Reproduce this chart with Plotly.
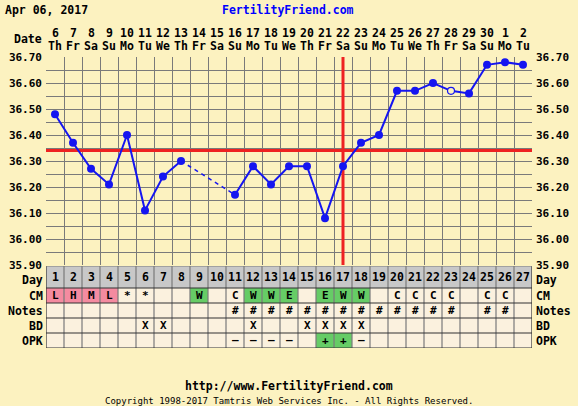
import plotly.graph_objects as go

# ---- chart data ----
chart_date = "Apr 06, 2017"
cycle_days = list(range(1, 28))
date_nums = ["6", "7", "8", "9", "10", "11", "12", "13", "14", "15", "16", "17", "18", "19",
             "20", "21", "22", "23", "24", "25", "26", "27", "28", "29", "30", "1", "2"]
weekdays = ["Th", "Fr", "Sa", "Su", "Mo", "Tu", "We", "Th", "Fr", "Sa", "Su", "Mo", "Tu", "We",
            "Th", "Fr", "Sa", "Su", "Mo", "Tu", "We", "Th", "Fr", "Sa", "Su", "Mo", "Tu"]
temps = [36.48, 36.37, 36.27, 36.21, 36.40, 36.11, 36.24, 36.30, None, None,
         36.17, 36.28, 36.21, 36.28, 36.28, 36.08, 36.28, 36.37, 36.40, 36.57,
         36.57, 36.60, 36.57, 36.56, 36.67, 36.68, 36.67]
open_days = [23]            # temperatures shown as hollow points
coverline = 36.34
ovulation_day = 17
temp_ticks = [35.90, 36.00, 36.10, 36.20, 36.30, 36.40, 36.50, 36.60, 36.70]

cm = ["L", "H", "M", "L", "*", "*", "", "", "W", "", "C", "W", "W", "E", "", "E", "W", "W",
      "", "C", "C", "C", "C", "", "C", "C", ""]
notes = ["", "", "", "", "", "", "", "", "", "", "#", "#", "#", "#", "#", "#", "#", "#",
         "#", "#", "#", "#", "#", "", "#", "#", ""]
bd = ["", "", "", "", "", "X", "X", "", "", "", "", "X", "", "", "X", "X", "X", "X",
      "", "", "", "", "", "", "", "", ""]
opk = ["", "", "", "", "", "", "", "", "", "", "\u2013", "\u2013", "\u2013", "\u2013", "",
       "+", "+", "\u2013", "", "", "", "", "", "", "", "", ""]
row_names = ["Day", "CM", "Notes", "BD", "OPK"]

# ---- styling ----
W, H = 578, 406
BG = "#FCF2C0"
CELL = "#FBF1DE"
DAYROW = "#C8C8C8"
PINK = "#F48BA0"
GREEN = "#66CC66"
GRID = "#7A7A7A"
RED = "#EE2222"
BLUE = "#1515F0"
FONT = "DejaVu Sans Mono"
cm_colors = {"L": PINK, "H": PINK, "M": PINK, "W": GREEN, "E": GREEN}
opk_colors = {"+": GREEN}

X0, X1 = 46, 532          # plot left/right in pixels
PT, PB = 57, 265          # temperature area top/bottom
TT, TB = 266, 348         # table top/bottom
row_edges = [0, 22, 37, 52, 67, 82]   # table row boundaries (pixels from table top)


def py(p):
    return 1 - p / H


def px(p):
    return p / W


fig = go.Figure()

# coverline and ovulation marker, under the temperature curve
fig.add_trace(go.Scatter(x=[0.5, 27.5], y=[coverline, coverline], mode="lines",
                         line=dict(color=RED, width=3), hoverinfo="skip"))
fig.add_trace(go.Scatter(x=[ovulation_day, ovulation_day], y=[temp_ticks[0], temp_ticks[-1]],
                         mode="lines", line=dict(color=RED, width=3), hoverinfo="skip"))

# temperature line: solid where consecutive, dashed across missing days
fig.add_trace(go.Scatter(x=cycle_days, y=temps, mode="lines",
                         line=dict(color=BLUE, width=2), connectgaps=False,
                         hoverinfo="skip"))
known = [(d, t) for d, t in zip(cycle_days, temps) if t is not None]
gap_x, gap_y = [], []
for (d0, t0), (d1, t1) in zip(known[:-1], known[1:]):
    if d1 - d0 > 1:
        gap_x += [d0, d1, None]
        gap_y += [t0, t1, None]
fig.add_trace(go.Scatter(x=gap_x, y=gap_y, mode="lines",
                         line=dict(color=BLUE, width=1.5, dash="4px,4px"),
                         hoverinfo="skip"))
fx = [d for d, t in known if d not in open_days]
fy = [t for d, t in known if d not in open_days]
fig.add_trace(go.Scatter(x=fx, y=fy, mode="markers",
                         marker=dict(color=BLUE, size=8, line=dict(width=0))))
ox = [d for d, t in known if d in open_days]
oy = [t for d, t in known if d in open_days]
fig.add_trace(go.Scatter(x=ox, y=oy, mode="markers",
                         marker=dict(color=BG, size=7, line=dict(color=BLUE, width=1.2))))

shapes = []
# table backgrounds
shapes.append(dict(type="rect", xref="x", yref="y2", x0=0.5, x1=27.5, y0=row_edges[0],
                   y1=row_edges[1], fillcolor=DAYROW, line=dict(width=0), layer="above"))
shapes.append(dict(type="rect", xref="x", yref="y2", x0=0.5, x1=27.5, y0=row_edges[1],
                   y1=row_edges[-1], fillcolor=CELL, line=dict(width=0), layer="above"))
for d, c in zip(cycle_days, cm):
    if c in cm_colors:
        shapes.append(dict(type="rect", xref="x", yref="y2", x0=d - 0.5, x1=d + 0.5,
                           y0=row_edges[1], y1=row_edges[2], fillcolor=cm_colors[c],
                           line=dict(width=0), layer="above"))
for d, c in zip(cycle_days, opk):
    if c in opk_colors:
        shapes.append(dict(type="rect", xref="x", yref="y2", x0=d - 0.5, x1=d + 0.5,
                           y0=row_edges[4], y1=row_edges[5], fillcolor=opk_colors[c],
                           line=dict(width=0), layer="above"))
# table grid
for k in range(28):
    shapes.append(dict(type="line", xref="x", yref="y2", x0=k + 0.5, x1=k + 0.5,
                       y0=row_edges[0], y1=row_edges[-1],
                       line=dict(color=GRID if 0 < k < 27 else "#333333", width=1.2),
                       layer="above"))
for e in row_edges[1:]:
    shapes.append(dict(type="line", xref="x", yref="y2", x0=0.5, x1=27.5, y0=e, y1=e,
                       line=dict(color="#333333", width=1.2), layer="above"))
shapes.append(dict(type="line", xref="x", yref="y2", x0=0.5, x1=27.5, y0=0, y1=0,
                   line=dict(color=GRID, width=1.2), layer="above"))

ann = []
bold = dict(family=FONT, size=11.5, color="black", weight="bold")

# header
ann.append(dict(text=chart_date, x=px(3), y=py(10), xref="paper", yref="paper",
                xanchor="left", yanchor="middle", showarrow=False, font=bold))
ann.append(dict(text="FertilityFriend.com", x=px(288), y=py(10), xref="paper", yref="paper",
                xanchor="center", yanchor="middle", showarrow=False,
                font=dict(family=FONT, size=11.5, color="#0000FF", weight="bold")))
ann.append(dict(text="Date", x=px(44), y=py(39), xref="paper", yref="paper",
                xanchor="right", yanchor="middle", showarrow=False, font=bold))
for d, n, w in zip(cycle_days, date_nums, weekdays):
    ann.append(dict(text=n, x=d, y=py(33), xref="x", yref="paper", xanchor="center",
                    yanchor="middle", showarrow=False, font=bold))
    ann.append(dict(text=w, x=d, y=py(46), xref="x", yref="paper", xanchor="center",
                    yanchor="middle", showarrow=False, font=bold))

# table row labels, both sides (the "Day" label sits a touch low to clear the 35.90 tick)
for i, name in enumerate(row_names):
    yc = (row_edges[i] + row_edges[i + 1]) / 2 + (2.5 if i == 0 else 0)
    ann.append(dict(text=name, x=px(44), y=yc, xref="paper", yref="y2", xanchor="right",
                    yanchor="middle", showarrow=False, font=bold, borderpad=0))
    ann.append(dict(text=name, x=px(535), y=yc, xref="paper", yref="y2", xanchor="left",
                    yanchor="middle", showarrow=False, font=bold, borderpad=0))

# table contents
rows = [[str(d) for d in cycle_days], cm, notes, bd, opk]
for i, vals in enumerate(rows):
    yc = (row_edges[i] + row_edges[i + 1]) / 2
    for d, v in zip(cycle_days, vals):
        if v:
            ann.append(dict(text=v, x=d, y=yc, xref="x", yref="y2", xanchor="center",
                            yanchor="middle", showarrow=False,
                            font=dict(family=FONT, size=11.5 if i == 0 else 11,
                                      color="black", weight="bold")))

# footer
ann.append(dict(text="http://www.FertilityFriend.com", x=0.5, y=py(386), xref="paper",
                yref="paper", xanchor="center", yanchor="middle", showarrow=False, font=bold))
ann.append(dict(text="Copyright 1998-2017 Tamtris Web Services Inc. - All Rights Reserved.",
                x=0.5, y=py(401), xref="paper", yref="paper", xanchor="center",
                yanchor="middle", showarrow=False,
                font=dict(family=FONT, size=9, color="black")))

tick_text = [f"{v:.2f}" for v in temp_ticks]
tickfont = dict(family=FONT, size=11, color="black", weight="bold")
yax = dict(domain=[py(PB), py(PT)], range=[temp_ticks[0], temp_ticks[-1]],
           tickvals=temp_ticks, ticktext=tick_text, showgrid=True, gridcolor=GRID,
           gridwidth=1.2, zeroline=False, ticks="", ticklabelstandoff=3,
           tickfont=tickfont, fixedrange=True, automargin=False,
           minor=dict(dtick=0.05, tick0=35.9, showgrid=True, gridcolor=GRID, gridwidth=1.2))

fig.update_layout(
    width=W, height=H, margin=dict(l=0, r=0, t=0, b=0, pad=0, autoexpand=False),
    paper_bgcolor=BG, plot_bgcolor=BG, showlegend=False,
    xaxis=dict(domain=[px(X0), px(X1)], range=[0.5, 27.5],
               tickvals=[k + 0.5 for k in range(28)], showticklabels=False,
               showgrid=True, gridcolor=GRID, gridwidth=1.2, zeroline=False, ticks="",
               automargin=False),
    yaxis=yax,
    yaxis3=dict(yax, overlaying="y", side="right", anchor="x", showgrid=False,
                minor=dict(showgrid=False)),
    yaxis2=dict(domain=[py(TB), py(TT)], range=[row_edges[-1], row_edges[0]],
                showgrid=False, showticklabels=False, zeroline=False, anchor="x",
                fixedrange=True, automargin=False),
    shapes=shapes, annotations=ann,
)
# attach right-hand axis so its labels render
fig.add_trace(go.Scatter(x=[None], y=[None], yaxis="y3", hoverinfo="skip"))

fig.write_html("out.html")
